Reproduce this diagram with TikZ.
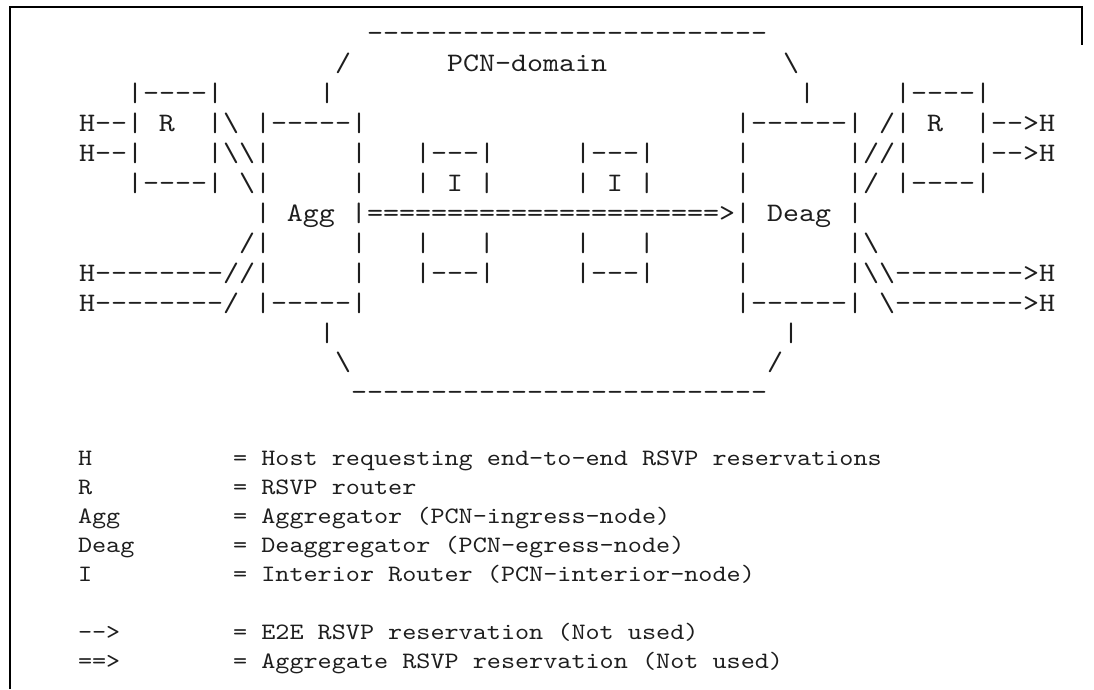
\documentclass[tikz,border=0pt]{standalone}
\usepackage{fontspec}
\setmonofont{lmmono10-regular.otf}[FakeStretch=1.143]
\definecolor{txt}{HTML}{1E1E1E}
\tikzset{
  dg/.style={anchor=base west, inner sep=0pt, outer sep=0pt, text=txt,
    font=\ttfamily\fontsize{26.67}{30}\selectfont},
  lg/.style={anchor=base west, inner sep=0pt, outer sep=0pt, text=txt,
    font=\ttfamily\fontsize{23.5}{29}\selectfont},
  frame/.style={draw=black, line width=1.6pt},
}
\newcommand\cx[1]{79+16*#1}
\newcommand\rb[1]{41.5+29.95*#1}
\newcommand\lb[1]{465+29*#1}
\newcommand\bs{\textbackslash}
\begin{document}
\begin{tikzpicture}[x=1pt,y=-1pt]
\useasboundingbox (0,0) rectangle (1094,689);
% frame
\coordinate (fbl) at (10,689);
\coordinate (ftl) at (10,7);
\coordinate (ftr) at (1082,7);
\coordinate (fbr) at (1082,45);
\draw[frame] (fbl) -- (ftl) -- (ftr) -- (fbr);
% diagram
\node[dg] (r0) at ({\cx{18}},{\rb{0}}) {-------------------------};
\node[dg] (r1a) at ({\cx{16}},{\rb{1}}) {/};
\node[dg] (r1b) at ({\cx{23}},{\rb{1}}) {PCN-domain};
\node[dg] (r1c) at ({\cx{44}},{\rb{1}}) {\bs};
\node[dg] (r2a) at ({\cx{3}},{\rb{2}}) {|----|};
\node[dg] (r2b) at ({\cx{15}},{\rb{2}}) {|};
\node[dg] (r2c) at ({\cx{45}},{\rb{2}}) {|};
\node[dg] (r2d) at ({\cx{51}},{\rb{2}}) {|----|};
\node[dg] (r3a) at ({\cx{0}},{\rb{3}}) {H--|~R~~|\bs~|-----|};
\node[dg] (r3b) at ({\cx{41}},{\rb{3}}) {|------|~/|~R~~|-->H};
\node[dg] (r4a) at ({\cx{0}},{\rb{4}}) {H--|~~~~|\bs\bs|~~~~~|};
\node[dg] (r4b) at ({\cx{21}},{\rb{4}}) {|---|};
\node[dg] (r4c) at ({\cx{31}},{\rb{4}}) {|---|};
\node[dg] (r4d) at ({\cx{41}},{\rb{4}}) {|~~~~~~|//|~~~~|-->H};
\node[dg] (r5a) at ({\cx{3}},{\rb{5}}) {|----|~\bs|~~~~~|};
\node[dg] (r5b) at ({\cx{21}},{\rb{5}}) {|~I~|};
\node[dg] (r5c) at ({\cx{31}},{\rb{5}}) {|~I~|};
\node[dg] (r5d) at ({\cx{41}},{\rb{5}}) {|~~~~~~|/~|----|};
\node[dg] (r6) at ({\cx{11}},{\rb{6}}) {|~Agg~|======================>|~Deag~|};
\node[dg] (r7a) at ({\cx{10}},{\rb{7}}) {/|~~~~~|};
\node[dg] (r7b) at ({\cx{21}},{\rb{7}}) {|~~~|};
\node[dg] (r7c) at ({\cx{31}},{\rb{7}}) {|~~~|};
\node[dg] (r7d) at ({\cx{41}},{\rb{7}}) {|~~~~~~|\bs};
\node[dg] (r8a) at ({\cx{0}},{\rb{8}}) {H--------//|~~~~~|};
\node[dg] (r8b) at ({\cx{21}},{\rb{8}}) {|---|};
\node[dg] (r8c) at ({\cx{31}},{\rb{8}}) {|---|};
\node[dg] (r8d) at ({\cx{41}},{\rb{8}}) {|~~~~~~|\bs\bs-------->H};
\node[dg] (r9a) at ({\cx{0}},{\rb{9}}) {H--------/~|-----|};
\node[dg] (r9b) at ({\cx{41}},{\rb{9}}) {|------|~\bs-------->H};
\node[dg] (r10a) at ({\cx{15}},{\rb{10}}) {|};
\node[dg] (r10b) at ({\cx{44}},{\rb{10}}) {|};
\node[dg] (r11a) at ({\cx{16}},{\rb{11}}) {\bs};
\node[dg] (r11b) at ({\cx{43}},{\rb{11}}) {/};
\node[dg] (r12) at ({\cx{17}},{\rb{12}}) {--------------------------};
% legend
\node[lg] (l0) at (78,{\lb{0}}) {H~~~~~~~~~~=~Host requesting end-to-end RSVP reservations};
\node[lg] (l1) at (78,{\lb{1}}) {R~~~~~~~~~~=~RSVP router};
\node[lg] (l2) at (78,{\lb{2}}) {Agg~~~~~~~~=~Aggregator (PCN-ingress-node)};
\node[lg] (l3) at (78,{\lb{3}}) {Deag~~~~~~~=~Deaggregator (PCN-egress-node)};
\node[lg] (l4) at (78,{\lb{4}}) {I~~~~~~~~~~=~Interior Router (PCN-interior-node)};
\node[lg] (l6) at (78,{\lb{6}}) {-->~~~~~~~~=~E2E RSVP reservation (Not used)};
\node[lg] (l7) at (78,{\lb{7}}) {==>~~~~~~~~=~Aggregate RSVP reservation (Not used)};
\end{tikzpicture}
\end{document}
